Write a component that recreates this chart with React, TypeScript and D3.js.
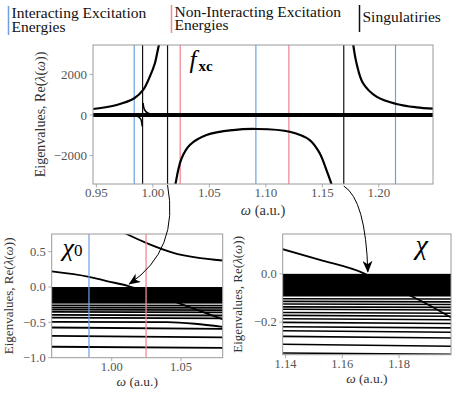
import { useEffect, useRef } from 'react';
import * as d3 from 'd3';

const W = 457;
const H = 394;
const FONT = 'Liberation Serif, DejaVu Serif, serif';
const BLUE = '#6f9fe0';
const RED = '#f28a97';
const AXIS_GREY = '#9a9a9a';
const TICK_TEXT = '#555';

// --- top panel: eigenvalues of f_xc ---
const fxcInteracting = [0.9835, 1.0912, 1.2148];
const fxcNonInteracting = [1.0242, 1.1204];
const fxcSingularities = [0.9909, 1.013, 1.169];
const fxcXTicks = [0.95, 1.0, 1.05, 1.1, 1.15, 1.2];
const fxcYTicks = [-2000, 0, 2000];
const fxcUpperLeft: [number, number][] = [
  [0.9472, 296], [0.9679, 494], [0.9835, 823], [0.9914, 1235], [0.9973, 1893],
  [1.0018, 2553], [1.0047, 3293], [1.0056, 3500],
];
const fxcUpperRight: [number, number][] = [
  [1.1773, 3500], [1.1803, 2553], [1.1861, 1564], [1.198, 905], [1.2157, 543],
  [1.2334, 379], [1.2481, 313],
];
const fxcLower: [number, number][] = [
  [1.0195, -3500], [1.0201, -3375], [1.0224, -2717], [1.0254, -2140], [1.0327, -1482],
  [1.0475, -988], [1.0711, -741], [1.0918, -690], [1.1212, -823], [1.1389, -1235],
  [1.1478, -1893], [1.1537, -2717], [1.1581, -3407], [1.1585, -3500],
];
const fxcSpikeLeft: [number, number][] = [[0.975, -10], [0.985, -40], [0.989, -180], [0.9906, -560]];
const fxcSpikeRight: [number, number][] = [[0.9912, 600], [0.9925, 280], [0.995, 110], [0.999, 40], [1.006, 10]];
const fxcZero: [number, number][] = [[0.947, 0], [1.248, 0]];

// --- bottom left: eigenvalues of chi_0 ---
const chi0Interacting = [0.9836];
const chi0NonInteracting = [1.0248];
const chi0XTicks = [1.0, 1.05];
const chi0YTicks = [-1.0, -0.5, 0.0, 0.5];
const chi0Band = [0, -0.235];
const chi0Upper: [number, number][] = [[1.0096, 0.76], [1.0248, 0.624], [1.0445, 0.483], [1.0801, 0.375]];
const chi0Crossing: [number, number][] = [
  [0.9567, 0.222], [0.9836, 0.145], [0.9964, 0.085], [1.012, 0.014], [1.03, -0.1],
  [1.0493, -0.235], [1.0801, -0.456],
];
const chi0Flat: [number, number][][] = [
  [[0.9567, -0.259], [1.0801, -0.262]],
  [[0.9567, -0.292], [1.0801, -0.296]],
  [[0.9567, -0.32], [1.0801, -0.326]],
  [[0.9567, -0.352], [1.0801, -0.36]],
  [[0.9567, -0.394], [1.0801, -0.403]],
  [[0.9567, -0.432], [1.0801, -0.443]],
  [[0.9567, -0.493], [1.04, -0.498], [1.06, -0.52], [1.0801, -0.565]],
  [[0.9567, -0.573], [1.0801, -0.592]],
  [[0.9567, -0.69], [1.0801, -0.712]],
  [[0.9567, -0.845], [1.0801, -0.862]],
];

// --- bottom right: eigenvalues of chi ---
const chiXTicks = [1.14, 1.16, 1.18];
const chiYTicks = [-0.2, 0.0];
const chiBand = [0, -0.094];
const chiCrossing: [number, number][] = [
  [1.1386, 0.1035], [1.1521, 0.058], [1.1674, 0.003], [1.176, -0.05], [1.185, -0.096], [1.1986, -0.183],
];
const chiFlat: [number, number][][] = [
  [[1.139, -0.103], [1.1986, -0.104]],
  [[1.139, -0.114], [1.1986, -0.116]],
  [[1.139, -0.125], [1.1986, -0.127]],
  [[1.139, -0.137], [1.1986, -0.139]],
  [[1.139, -0.147], [1.1986, -0.15]],
  [[1.139, -0.16], [1.1986, -0.163]],
  [[1.139, -0.172], [1.1986, -0.176]],
  [[1.139, -0.186], [1.1986, -0.19]],
  [[1.139, -0.201], [1.1986, -0.206]],
  [[1.139, -0.219], [1.1986, -0.224]],
  [[1.139, -0.236], [1.1986, -0.242]],
  [[1.139, -0.259], [1.1986, -0.266]],
  [[1.139, -0.292], [1.1986, -0.3]],
  [[1.139, -0.328], [1.1986, -0.333]],
];

type Sel = d3.Selection<any, unknown, null, undefined>;

function richText(sel: Sel, parts: [string, boolean][]) {
  parts.forEach(([t, it]) => sel.append('tspan').attr('font-style', it ? 'italic' : 'normal').text(t));
}

export default function App() {
  const svgRef = useRef<SVGSVGElement>(null);

  useEffect(() => {
    const svg = d3.select(svgRef.current);
    svg.selectAll('*').remove();
    svg.attr('width', W).attr('height', H);
    const txt = (parent: Sel = svg) => parent.append('text').attr('font-family', FONT);

    // panel frames (pixel layout)
    const top = { x0: 93, x1: 433, y0: 45, y1: 184 };
    const bl = { x0: 51.7, x1: 222.7, y0: 234, y1: 357.7 };
    const br = { x0: 282.7, x1: 451, y0: 234, y1: 354.7 };

    const xTop = d3.scaleLinear().domain([0.947, 1.248]).range([top.x0, top.x1]);
    const yTop = d3.scaleLinear().domain([-3400, 3450]).range([top.y1, top.y0]);
    const xBL = d3.scaleLinear().domain([0.9567, 1.0801]).range([bl.x0, bl.x1]);
    const yBL = d3.scaleLinear().domain([-1.0, 0.75]).range([bl.y1, bl.y0]);
    const xBR = d3.scaleLinear().domain([1.139, 1.1983]).range([br.x0, br.x1]);
    const yBR = d3.scaleLinear().domain([-0.335, 0.165]).range([br.y1, br.y0]);

    const panel = (id: string, f: typeof top, x: d3.ScaleLinear<number, number>, y: d3.ScaleLinear<number, number>,
      xTicks: number[], yTicks: number[], xFmt: (d: number) => string, yFmt: (d: number) => string, fs: number) => {
      svg.append('clipPath').attr('id', id).append('rect')
        .attr('x', f.x0).attr('y', f.y0).attr('width', f.x1 - f.x0).attr('height', f.y1 - f.y0);
      const g = svg.append('g').attr('clip-path', `url(#${id})`);
      const ax = svg.append('g').attr('font-family', FONT);
      ax.selectAll('line.xt').data(xTicks).join('line')
        .attr('x1', d => x(d)).attr('x2', d => x(d)).attr('y1', f.y1).attr('y2', f.y1 + 3.5)
        .attr('stroke', AXIS_GREY).attr('stroke-width', 0.8);
      ax.selectAll('text.xt').data(xTicks).join('text')
        .attr('x', d => x(d)).attr('y', f.y1 + 13).attr('text-anchor', 'middle').attr('font-family', FONT)
        .attr('font-size', fs).attr('fill', TICK_TEXT).text(xFmt);
      ax.selectAll('line.yt').data(yTicks).join('line')
        .attr('y1', d => y(d)).attr('y2', d => y(d)).attr('x1', f.x0 - 3.5).attr('x2', f.x0)
        .attr('stroke', AXIS_GREY).attr('stroke-width', 0.8);
      ax.selectAll('text.yt').data(yTicks).join('text')
        .attr('y', d => y(d)).attr('x', f.x0 - 6).attr('text-anchor', 'end').attr('dy', '0.35em').attr('font-family', FONT)
        .attr('font-size', fs).attr('fill', TICK_TEXT).text(yFmt);
      return { g, ax };
    };

    const minusFmt = (s: string) => s.replace('-', '\u2212');
    const line = (x: d3.ScaleLinear<number, number>, y: d3.ScaleLinear<number, number>) =>
      d3.line<[number, number]>().x(d => x(d[0])).y(d => y(d[1])).curve(d3.curveMonotoneX);

    const vlines = (g: Sel, x: d3.ScaleLinear<number, number>, f: typeof top, vals: number[], color: string, w: number) => {
      g.selectAll(null).data(vals).join('line')
        .attr('x1', d => x(d)).attr('x2', d => x(d)).attr('y1', f.y0).attr('y2', f.y1)
        .attr('stroke', color).attr('stroke-width', w);
    };

    // ---------- top panel ----------
    const t = panel('clipTop', top, xTop, yTop, fxcXTicks, fxcYTicks, d => d3.format('.2f')(d), d => minusFmt(d3.format('d')(d)), 13);
    vlines(t.g, xTop, top, fxcInteracting, BLUE, 1.2);
    vlines(t.g, xTop, top, fxcNonInteracting, RED, 1.3);
    vlines(t.g, xTop, top, fxcSingularities, '#111', 1.2);
    const lt = line(xTop, yTop);
    t.g.append('path').attr('d', lt(fxcZero)).attr('fill', 'none').attr('stroke', '#000').attr('stroke-width', 3.8);
    const cr = d3.line<[number, number]>().x(d => xTop(d[0])).y(d => yTop(d[1])).curve(d3.curveCatmullRom);
    [fxcUpperLeft, fxcUpperRight, fxcLower].forEach(s =>
      t.g.append('path').attr('d', cr(s)).attr('fill', 'none').attr('stroke', '#000').attr('stroke-width', 2.2));
    [fxcSpikeLeft, fxcSpikeRight].forEach(s =>
      t.g.append('path').attr('d', cr(s)).attr('fill', 'none').attr('stroke', '#000').attr('stroke-width', 1.6));
    svg.append('rect').attr('x', top.x0).attr('y', top.y0).attr('width', top.x1 - top.x0).attr('height', top.y1 - top.y0)
      .attr('fill', 'none').attr('stroke', AXIS_GREY).attr('stroke-width', 1);
    const fxc = txt().attr('x', xTop(1.0325)).attr('y', yTop(2300)).attr('font-size', 25);
    fxc.append('tspan').attr('font-style', 'italic').text('f');
    fxc.append('tspan').attr('font-size', 15).attr('font-weight', 'bold').attr('dy', 3).attr('dx', 2).text('xc');

    // ---------- bottom left ----------
    const b1 = panel('clipBL', bl, xBL, yBL, chi0XTicks, chi0YTicks, d => d3.format('.2f')(d), d => minusFmt(d3.format('.1f')(d)), 12.5);
    b1.g.append('rect').attr('x', bl.x0).attr('width', bl.x1 - bl.x0)
      .attr('y', yBL(chi0Band[0])).attr('height', yBL(chi0Band[1]) - yBL(chi0Band[0])).attr('fill', '#000');
    const l1 = line(xBL, yBL);
    chi0Flat.forEach(s => b1.g.append('path').attr('d', l1(s)).attr('fill', 'none').attr('stroke', '#000').attr('stroke-width', 1.8));
    [chi0Upper, chi0Crossing].forEach(s =>
      b1.g.append('path').attr('d', l1(s)).attr('fill', 'none').attr('stroke', '#000').attr('stroke-width', 1.8));
    vlines(b1.g, xBL, bl, chi0Interacting, BLUE, 1.2);
    vlines(b1.g, xBL, bl, chi0NonInteracting, RED, 1.3);
    svg.append('rect').attr('x', bl.x0).attr('y', bl.y0).attr('width', bl.x1 - bl.x0).attr('height', bl.y1 - bl.y0)
      .attr('fill', 'none').attr('stroke', AXIS_GREY).attr('stroke-width', 1);
    const c0 = txt().attr('x', xBL(0.9645)).attr('y', yBL(0.44)).attr('font-size', 26);
    c0.append('tspan').attr('font-style', 'italic').text('\u03c7');
    c0.append('tspan').attr('font-size', 17).attr('dy', 0).text('0');

    // ---------- bottom right ----------
    const b2 = panel('clipBR', br, xBR, yBR, chiXTicks, chiYTicks, d => d3.format('.2f')(d), d => minusFmt(d3.format('.1f')(d)), 12.5);
    b2.g.append('rect').attr('x', br.x0).attr('width', br.x1 - br.x0)
      .attr('y', yBR(chiBand[0])).attr('height', yBR(chiBand[1]) - yBR(chiBand[0])).attr('fill', '#000');
    const l2 = line(xBR, yBR);
    chiFlat.forEach(s => b2.g.append('path').attr('d', l2(s)).attr('fill', 'none').attr('stroke', '#000').attr('stroke-width', 1.6));
    b2.g.append('path').attr('d', l2(chiCrossing)).attr('fill', 'none').attr('stroke', '#000').attr('stroke-width', 1.8);
    svg.append('rect').attr('x', br.x0).attr('y', br.y0).attr('width', br.x1 - br.x0).attr('height', br.y1 - br.y0)
      .attr('fill', 'none').attr('stroke', AXIS_GREY).attr('stroke-width', 1);
    txt().attr('x', xBR(1.1858)).attr('y', yBR(0.082)).attr('font-size', 28)
      .attr('font-style', 'italic').text('\u03c7');

    // ---------- axis labels ----------
    const yLab = (cx: number, cy: number, size: number) => {
      const tx = txt().attr('transform', `translate(${cx},${cy}) rotate(-90)`)
        .attr('text-anchor', 'middle').attr('font-size', size).attr('fill', '#333');
      richText(tx, [['Eigenvalues, Re(', false], ['\u03bb', true], ['(', false], ['\u03c9', true], ['))', false]]);
    };
    const xLab = (cx: number, cy: number, size: number) => {
      const tx = txt().attr('x', cx).attr('y', cy).attr('text-anchor', 'middle').attr('font-size', size).attr('fill', '#333');
      richText(tx, [['\u03c9', true], [' (a.u.)', false]]);
    };
    yLab(45, (top.y0 + top.y1) / 2, 14);
    xLab((top.x0 + top.x1) / 2, 215, 14.5);
    yLab(13, (bl.y0 + bl.y1) / 2, 13);
    xLab((bl.x0 + bl.x1) / 2, 386, 13.5);
    yLab(242, (br.y0 + br.y1) / 2, 13);
    xLab((br.x0 + br.x1) / 2, 383, 13.5);

    // ---------- arrows ----------
    svg.append('defs').append('marker').attr('id', 'head').attr('viewBox', '0 0 12 10')
      .attr('refX', 11).attr('refY', 5).attr('markerWidth', 12).attr('markerHeight', 10)
      .attr('markerUnits', 'userSpaceOnUse').attr('orient', 'auto')
      .append('path').attr('d', 'M0,0 L12,5 L0,10 L3.5,5 Z').attr('fill', '#000');
    const arrow = (sx: number, sy: number, cx: number, cy: number, ex: number, ey: number) => {
      const p = d3.path();
      p.moveTo(sx, sy);
      p.quadraticCurveTo(cx, cy, ex, ey);
      svg.append('path').attr('d', p.toString()).attr('fill', 'none').attr('stroke', '#000')
        .attr('stroke-width', 1).attr('marker-end', 'url(#head)');
    };
    arrow(xTop(fxcSingularities[1]), top.y1 + 1, xTop(fxcSingularities[1]) + 12, 250, xBL(1.012) + 1, yBL(0) - 3);
    arrow(xTop(fxcSingularities[2]), top.y1 + 2, xTop(fxcSingularities[2]) + 22, 200, xBR(1.169), yBR(0) - 2);

    // ---------- legend ----------
    const leg = svg.append('g');
    const legItem = (x: number, color: string, lines: string[], y0: number, y1: number, baseline: number) => {
      leg.append('line').attr('x1', x).attr('x2', x).attr('y1', y0).attr('y2', y1).attr('stroke', color).attr('stroke-width', 1.5);
      lines.forEach((s, i) => txt(leg).attr('x', x + 3).attr('y', baseline + i * 13.8)
        .attr('font-size', 15.5).attr('fill', '#111').text(s));
    };
    legItem(8.5, BLUE, ['Interacting Excitation', 'Energies'], 6, 35, 18);
    legItem(171.5, RED, ['Non-Interacting Excitation', 'Energies'], 5, 33, 16.5);
    legItem(359.5, '#111', ['Singulatiries'], 5, 32, 21.7);
  }, []);

  return (
    <div style={{ position: 'absolute', left: 0, top: 0 }}>
      <svg ref={svgRef} />
    </div>
  );
}
